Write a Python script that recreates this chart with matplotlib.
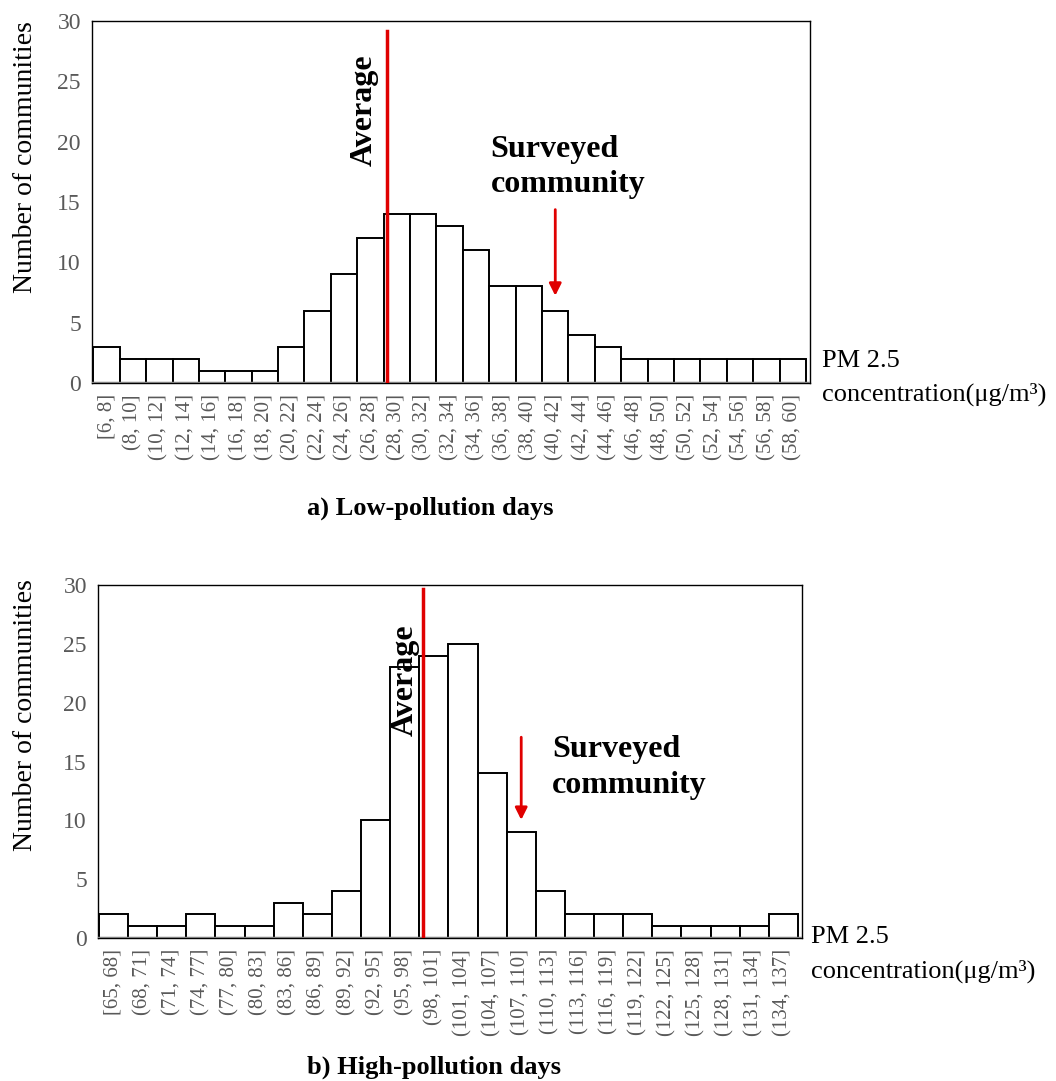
import matplotlib
matplotlib.use("Agg")
import matplotlib.pyplot as plt
import numpy as np

plt.rcParams["font.family"] = ["Liberation Serif", "DejaVu Serif"]

# a) Low-pollution days
low_bins = ["[6, 8]", "(8, 10]", "(10, 12]", "(12, 14]", "(14, 16]", "(16, 18]",
            "(18, 20]", "(20, 22]", "(22, 24]", "(24, 26]", "(26, 28]", "(28, 30]",
            "(30, 32]", "(32, 34]", "(34, 36]", "(36, 38]", "(38, 40]", "(40, 42]",
            "(42, 44]", "(44, 46]", "(46, 48]", "(48, 50]", "(50, 52]", "(52, 54]",
            "(54, 56]", "(56, 58]", "(58, 60]"]
low_counts = [3, 2, 2, 2, 1, 1, 1, 3, 6, 9, 12, 14, 14, 13, 11, 8, 8, 6, 4, 3,
              2, 2, 2, 2, 2, 2, 2]
low_avg_pos = 10.61      # in bin-index units
low_survey_bin = 17

# b) High-pollution days
high_bins = ["[65, 68]", "(68, 71]", "(71, 74]", "(74, 77]", "(77, 80]", "(80, 83]",
             "(83, 86]", "(86, 89]", "(89, 92]", "(92, 95]", "(95, 98]", "(98, 101]",
             "(101, 104]", "(104, 107]", "(107, 110]", "(110, 113]", "(113, 116]",
             "(116, 119]", "(119, 122]", "(122, 125]", "(125, 128]", "(128, 131]",
             "(131, 134]", "(134, 137]"]
high_counts = [2, 1, 1, 2, 1, 1, 3, 2, 4, 10, 23, 24, 25, 14, 9, 4, 2, 2, 2,
               1, 1, 1, 1, 2]
high_avg_pos = 10.64
high_survey_bin = 14

W, H = 1056, 1081
fig = plt.figure(figsize=(W / 100, H / 100), dpi=100)


def px_axes(left, top, right, bottom):
    return fig.add_axes([left / W, 1 - bottom / H, (right - left) / W, (bottom - top) / H])


def draw_hist(ax, labels, counts, xlim, label_xy):
    x = np.arange(len(counts))
    ax.bar(x, counts, width=1.0, facecolor="white", edgecolor="black", linewidth=1.4, zorder=2)
    ax.set_xlim(*xlim)
    ax.set_ylim(0, 30)
    ax.set_yticks(range(0, 31, 5))
    ax.set_xticks(x)
    ax.set_xticklabels(labels, rotation=90, fontsize=15, color="#595959")
    ax.tick_params(axis="y", labelsize=17, colors="#595959", length=0, pad=8)
    ax.tick_params(axis="x", length=0, pad=8)
    for s in ax.spines.values():
        s.set_color("black")
        s.set_linewidth(1.0)
    ax.axhline(0, color="#7f7f7f", linewidth=2.5, zorder=3)
    ax.set_ylabel("Number of communities", fontsize=20, color="black")
    ax.yaxis.set_label_coords(*label_xy)


# top panel
ax1 = px_axes(92, 21, 810, 383)
draw_hist(ax1, low_bins, low_counts, (-0.55, 26.65), (-0.075, 0.624))
ax1.plot([low_avg_pos, low_avg_pos], [0, 29.2], color="#e00000", linewidth=2.5, zorder=4)
ax1.text(low_avg_pos - 0.85, 22.6, "Average", rotation=90, fontsize=23, fontweight="bold",
         ha="center", va="center", zorder=5)
ax1.annotate("", xy=(low_survey_bin, 7.0), xytext=(low_survey_bin, 14.6),
             arrowprops=dict(arrowstyle="-|>", color="#e00000", lw=2, mutation_scale=18),
             zorder=5)
ax1.text(14.55, 17.9, "Surveyed\ncommunity", fontsize=23, fontweight="bold",
         ha="left", va="center", linespacing=1.3)
fig.text(822 / W, 1 - 361 / H, "PM 2.5", fontsize=19, ha="left", va="center")
fig.text(822 / W, 1 - 394 / H, "concentration(μg/m³)", fontsize=19, ha="left", va="center")
fig.text(430 / W, 1 - 508 / H, "a) Low-pollution days", fontsize=19, fontweight="bold",
         ha="center", va="center")

# bottom panel
ax2 = px_axes(98, 585, 802, 938)
draw_hist(ax2, high_bins, high_counts, (-0.53, 23.64), (-0.085, 0.632))
ax2.plot([high_avg_pos, high_avg_pos], [0, 29.7], color="#e00000", linewidth=2.5, zorder=4)
ax2.text(high_avg_pos - 0.62, 21.9, "Average", rotation=90, fontsize=23, fontweight="bold",
         ha="center", va="center", zorder=5)
ax2.annotate("", xy=(high_survey_bin, 9.8), xytext=(high_survey_bin, 17.3),
             arrowprops=dict(arrowstyle="-|>", color="#e00000", lw=2, mutation_scale=18),
             zorder=5)
ax2.text(15.05, 14.5, "Surveyed\ncommunity", fontsize=23, fontweight="bold",
         ha="left", va="center", linespacing=1.3)
fig.text(811 / W, 1 - 937 / H, "PM 2.5", fontsize=19, ha="left", va="center")
fig.text(811 / W, 1 - 971 / H, "concentration(μg/m³)", fontsize=19, ha="left", va="center")
fig.text(434 / W, 1 - 1067 / H, "b) High-pollution days", fontsize=19, fontweight="bold",
         ha="center", va="center")

fig.savefig("out.png", dpi=100)
